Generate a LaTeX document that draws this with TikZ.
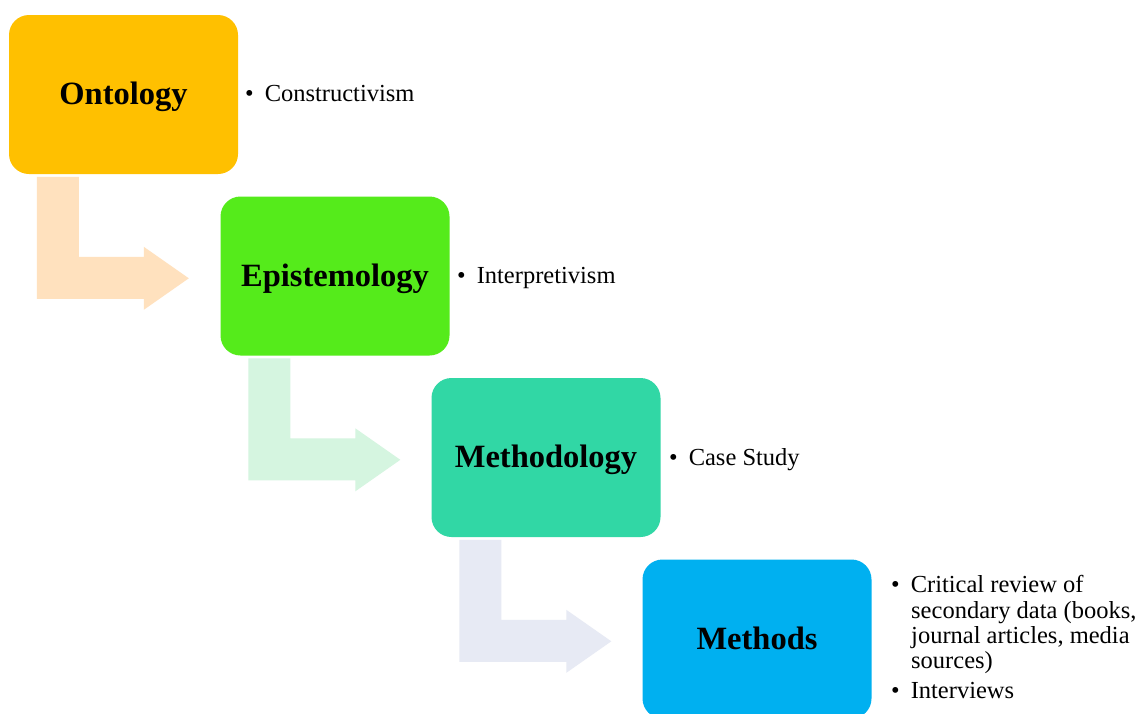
\documentclass[tikz,border=0pt]{standalone}
\usepackage{fontspec}
\setmainfont{Liberation Serif}
\definecolor{cOnt}{HTML}{FFC000}
\definecolor{cEpi}{HTML}{55EB1B}
\definecolor{cMtg}{HTML}{31D7A5}
\definecolor{cMth}{HTML}{00B0F0}
\definecolor{aOnt}{HTML}{FFE1BE}
\definecolor{aEpi}{HTML}{D5F5E0}
\definecolor{aMtg}{HTML}{E7EAF4}
\tikzset{
  stage/.style={rounded corners=20pt, minimum width=229pt, minimum height=159pt,
    inner sep=0pt, text height=23pt, text depth=3pt,
    font=\fontsize{32.5}{36}\selectfont\bfseries},
  bul/.style={anchor=base west, inner sep=0pt, font=\fontsize{24.5}{26}\selectfont},
  bentarrow/.style={draw=none}
}
\newcommand{\bentArrowShape}[2]{%
  \fill[#2, shift={(#1.north west)}]
    (28,162) -- (70,162) -- (70,242) -- (135,242) -- (135,232) -- (180,263.5)
    -- (135,295) -- (135,284) -- (28,284) -- cycle;}
\newcommand{\bt}{\textbullet\hspace{11pt}}
\begin{document}
\begin{tikzpicture}[x=1pt,y=-1pt]
\useasboundingbox (0,0) rectangle (1147,713);
\clip (0,0) rectangle (1147,713);
\fill[white] (0,0) rectangle (1147,713);

\node[stage, fill=cOnt] (ont) at (123.5,94.5) {Ontology};
\node[stage, fill=cEpi] (epi) at (335,276) {Epistemology};
\node[stage, fill=cMtg] (mtg) at (546,457.5) {Methodology};
\node[stage, fill=cMth] (mth) at (757,639) {Methods};

\bentArrowShape{ont}{aOnt}
\bentArrowShape{epi}{aEpi}
\bentArrowShape{mtg}{aMtg}

\node[bul] (tOnt) at (245,101.5) {\bt Constructivism};
\node[bul] (tEpi) at (457,283) {\bt Interpretivism};
\node[bul] (tMtg) at (669,465) {\bt Case Study};
\node[bul] (tMth1) at (891,592) {\bt Critical review of};
\node[bul] (tMth2) at (911,618) {secondary data (books,};
\node[bul] (tMth3) at (911,643) {journal articles, media};
\node[bul] (tMth4) at (911,668) {sources)};
\node[bul] (tMth5) at (891,698) {\bt Interviews};
\end{tikzpicture}
\end{document}
